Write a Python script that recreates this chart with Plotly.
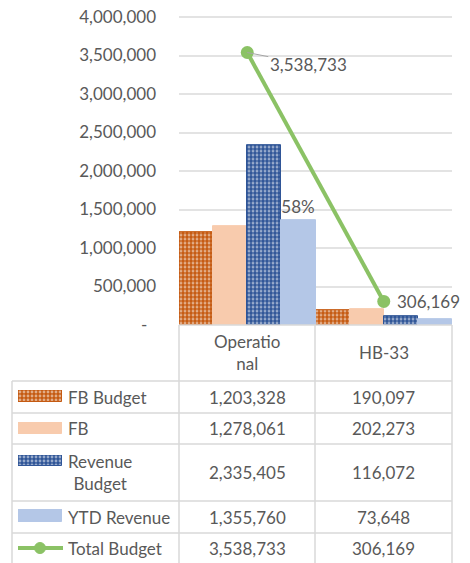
import plotly.graph_objects as go

# ---------------- data ----------------
categories = ["Operational", "HB-33"]
category_labels = ["Operatio<br>nal", "HB-33"]
fb_budget = [1203328, 190097]
fb = [1278061, 202273]
revenue_budget = [2335405, 116072]
ytd_revenue = [1355760, 73648]
total_budget = [3538733, 306169]
series_names = ["FB Budget", "FB", "Revenue Budget", "YTD Revenue", "Total Budget"]
y_ticks = [0, 500000, 1000000, 1500000, 2000000, 2500000, 3000000, 3500000, 4000000]

# ---------------- styling ----------------
W, H = 470, 563
OFF = 8  # page body margin: screen pixel p corresponds to figure pixel p - OFF
FONT = "Lato, Open Sans, sans-serif"
TXT = "#595959"
GRID = "#E3E3E3"
TBL = "#D9D9D9"
C_ORANGE = "#C55A11"
C_PEACH = "#F8CBAD"
C_BLUE = "#2F5597"
C_LBLUE = "#B4C7E7"
C_GREEN = "#8BC265"
FS = 17


def fx(p):
    return (p - OFF) / W


def fy(p):
    return 1 - (p - OFF) / H


PLOT_L, PLOT_R, PLOT_B = 179, 452, 325
Y_MAX_TICK_PX = 17          # screen row of the top tick
Y_TOP = 4050000             # axis range top (slightly above last tick)
px_per_unit = (PLOT_B - Y_MAX_TICK_PX) / y_ticks[-1]
PLOT_T = PLOT_B - Y_TOP * px_per_unit
COLS = [179, 315, 452]
TABLE_L = 12
ROW_LINES = [381, 413, 444, 501, 533, 564]

pat = dict(shape=".", fgcolor="white", size=4, solidity=0.4)

fig = go.Figure()

bar_specs = [
    (series_names[0], fb_budget, C_ORANGE, True),
    (series_names[1], fb, C_PEACH, False),
    (series_names[2], revenue_budget, C_BLUE, True),
    (series_names[3], ytd_revenue, C_LBLUE, False),
]

pct_text = [f"{round(ytd_revenue[0] / revenue_budget[0] * 100)}%", ""]

for name, vals, col, patterned in bar_specs:
    marker = dict(color=col, line=dict(color=col, width=1))
    if patterned:
        marker["pattern"] = dict(pat, bgcolor=col)
    fig.add_trace(go.Bar(
        x=categories, y=vals, name=name, marker=marker,
        text=pct_text if name == "YTD Revenue" else None,
        textposition="outside" if name == "YTD Revenue" else None,
        textfont=dict(color=TXT, size=FS, family=FONT),
        constraintext="none", cliponaxis=False,
        showlegend=False, hoverinfo="skip",
    ))

fig.add_trace(go.Scatter(
    x=categories, y=total_budget, name=series_names[4], mode="lines+markers",
    line=dict(color=C_GREEN, width=4), marker=dict(size=13, color=C_GREEN),
    showlegend=False, cliponaxis=False,
))

# legend swatches drawn as tiny bar charts on their own axes (patterns supported)
swatch_boxes = [(18, 62, 390, 402), (18, 62, 422, 434), (18, 62, 455, 466), (18, 62, 509, 522)]
for i, ((name, vals, col, patterned), (x0, x1, y0, y1)) in enumerate(zip(bar_specs, swatch_boxes)):
    n = i + 2
    marker = dict(color=col, line=dict(color=col, width=1))
    if patterned:
        marker["pattern"] = dict(pat, bgcolor=col)
    fig.add_trace(go.Bar(x=[0.5], y=[1], width=[1], marker=marker, xaxis=f"x{n}", yaxis=f"y{n}",
                         showlegend=False, hoverinfo="skip"))
    fig.update_layout(**{
        f"xaxis{n}": dict(domain=[fx(x0), fx(x1)], range=[0, 1], visible=False, fixedrange=True, anchor=f"y{n}"),
        f"yaxis{n}": dict(domain=[fy(y1), fy(y0)], range=[0, 1], visible=False, fixedrange=True, anchor=f"x{n}"),
    })

shapes = []
annotations = []

# table lines
line_style = dict(color=TBL, width=1.5)
for x in COLS:
    shapes.append(dict(type="line", xref="paper", yref="paper", x0=fx(x), x1=fx(x),
                       y0=fy(PLOT_B), y1=fy(ROW_LINES[-1]), line=line_style))
shapes.append(dict(type="line", xref="paper", yref="paper", x0=fx(TABLE_L), x1=fx(TABLE_L),
                   y0=fy(ROW_LINES[0]), y1=fy(ROW_LINES[-1]), line=line_style))
for y in ROW_LINES:
    shapes.append(dict(type="line", xref="paper", yref="paper", x0=fx(TABLE_L), x1=fx(PLOT_R),
                       y0=fy(y), y1=fy(y), line=line_style))
shapes.append(dict(type="line", xref="paper", yref="paper", x0=fx(PLOT_L), x1=fx(PLOT_R),
                   y0=fy(PLOT_B), y1=fy(PLOT_B), line=line_style))

# total budget swatch (line with marker)
shapes.append(dict(type="line", xref="paper", yref="paper", x0=fx(18), x1=fx(63), y0=fy(548), y1=fy(548),
                   line=dict(color=C_GREEN, width=4)))
shapes.append(dict(type="circle", xref="paper", yref="paper", x0=fx(34.5), x1=fx(45.5), y0=fy(553.5), y1=fy(542.5),
                   fillcolor=C_GREEN, line=dict(color=C_GREEN, width=1)))

# header row
col_centers = [(COLS[0] + COLS[1]) / 2, (COLS[1] + COLS[2]) / 2]
for cx, lab in zip(col_centers, category_labels):
    annotations.append(dict(xref="paper", yref="paper", x=fx(cx), y=fy(352), text=lab, showarrow=False,
                            xanchor="center", yanchor="middle", align="center",
                            font=dict(size=FS, color=TXT, family=FONT)))

# data rows
row_values = [fb_budget, fb, revenue_budget, ytd_revenue, total_budget]
row_labels = ["FB Budget", "FB", "Revenue<br>Budget", "YTD Revenue", "Total Budget"]
for r, (lab, vals) in enumerate(zip(row_labels, row_values)):
    yc = (ROW_LINES[r] + ROW_LINES[r + 1]) / 2
    annotations.append(dict(xref="paper", yref="paper", x=fx(66), y=fy(yc), text=lab, showarrow=False,
                            xanchor="left", yanchor="middle", align="center",
                            font=dict(size=FS, color=TXT, family=FONT)))
    for cx, v in zip(col_centers, vals):
        annotations.append(dict(xref="paper", yref="paper", x=fx(cx), y=fy(yc), text=f"{v:,}", showarrow=False,
                                xanchor="center", yanchor="middle",
                                font=dict(size=FS, color=TXT, family=FONT)))

# data labels on line
annotations.append(dict(xref="x", yref="y", x=categories[0], y=total_budget[0], text=f"{total_budget[0]:,}",
                        showarrow=True, arrowhead=0, arrowwidth=1, arrowcolor="#A6A6A6", ax=61, ay=12,
                        font=dict(size=FS, color=TXT, family=FONT)))
annotations.append(dict(xref="x", yref="y", x=categories[1], y=total_budget[1], text=f"{total_budget[1]:,}",
                        showarrow=False, xshift=45, yshift=0,
                        font=dict(size=FS, color=TXT, family=FONT)))

tick_text = [f"{v:,}" if v else "-\u00a0\u00a0" for v in y_ticks]

fig.update_layout(
    width=W, height=H, margin=dict(l=0, r=0, t=0, b=0, autoexpand=False),
    paper_bgcolor="white", plot_bgcolor="white",
    barmode="group", bargap=0, bargroupgap=0,
    font=dict(family=FONT, size=FS, color=TXT),
    xaxis=dict(domain=[fx(PLOT_L), fx(PLOT_R)], range=[-0.5, len(categories) - 0.5], autorange=False,
               showticklabels=False, showgrid=False, zeroline=False,
               showline=False, ticks="", fixedrange=True, automargin=False),
    yaxis=dict(domain=[fy(PLOT_B), fy(PLOT_T)], range=[0, Y_TOP], autorange=False,
               tickvals=y_ticks, ticktext=tick_text,
               showgrid=True, gridcolor=GRID, gridwidth=1.5, zeroline=False, showline=False, ticks="",
               ticklabelstandoff=22, ticklabeloverflow="allow",
               tickfont=dict(size=FS, color=TXT, family=FONT), fixedrange=True,
               automargin=False),
    shapes=shapes, annotations=annotations, showlegend=False,
)

fig.write_html("out.html")
